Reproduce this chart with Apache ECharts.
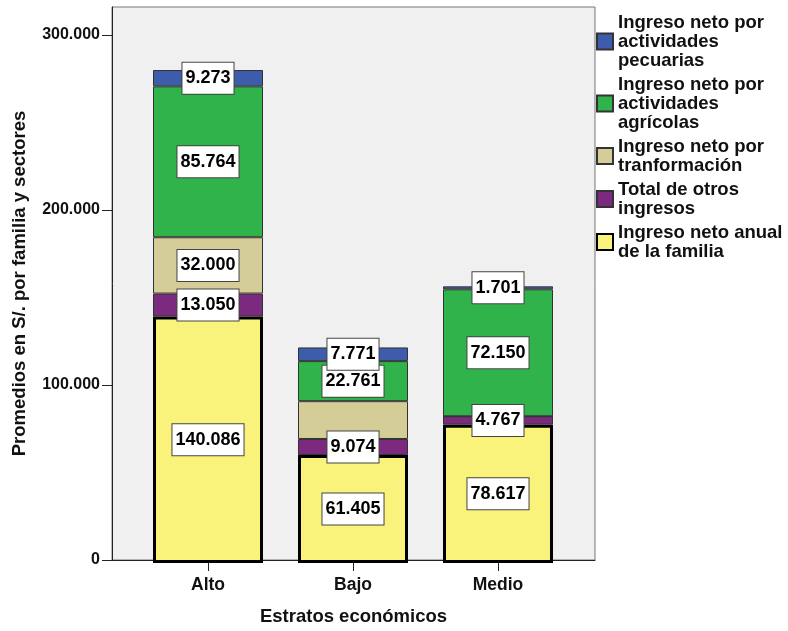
<!DOCTYPE html>
<html>
<head>
<meta charset="utf-8">
<script src="https://cdn.jsdelivr.net/npm/echarts@6/dist/echarts.min.js"></script>
<style>html,body{margin:0;padding:0;background:#fff}#c{width:788px;height:631px}</style>
</head>
<body>
<div id="c"></div>
<script>
const categories = ['Alto', 'Bajo', 'Medio'];
const ingresoAnual = [140086, 61405, 78617];
const otrosIngresos = [13050, 9074, 4767];
const transformacion = [32000, 21500, 0];
const agricolas = [85764, 22761, 72150];
const pecuarias = [9273, 7771, 1701];
const yTicks = [0, 100000, 200000, 300000];
const seriesNames = [
  'Ingreso neto anual\nde la familia',
  'Total de otros\ningresos',
  'Ingreso neto por\ntranformación',
  'Ingreso neto por\nactividades\nagrícolas',
  'Ingreso neto por\nactividades\npecuarias'
];
// labels not printed in the reference (series index, category index)
const hiddenLabels = [[2, 1], [2, 2]];

const fmt = v => String(Math.round(v)).replace(/\B(?=(\d{3})+(?!\d))/g, '.');
const colors = ['#FAF37B', '#7C2A80', '#D4CD98', '#31B34B', '#3D5CAB'];
const values = [ingresoAnual, otrosIngresos, transformacion, agricolas, pecuarias];

const series = values.map((arr, si) => ({
  name: seriesNames[si],
  type: 'bar',
  stack: 'total',
  xAxisIndex: 1,
  yAxisIndex: 1,
  barWidth: 110,
  itemStyle: {
    color: colors[si],
    borderColor: si === 0 ? '#000' : '#333',
    borderWidth: si === 0 ? 3 : 1
  },
  label: {
    show: true,
    position: 'inside',
    formatter: p => fmt(p.value),
    fontFamily: '"Liberation Sans", Arial, sans-serif',
    fontWeight: 'bold',
    fontSize: 18,
    lineHeight: 18,
    color: '#000',
    backgroundColor: '#fff',
    borderColor: '#444',
    borderWidth: 1,
    padding: [7, 3, 6, 3]
  },
  data: arr.map((v, ci) => {
    const hide = hiddenLabels.some(h => h[0] === si && h[1] === ci);
    return hide ? { value: v, label: { show: false } } : v;
  })
}));

const axisFont = { fontFamily: '"Liberation Sans", Arial, sans-serif', fontWeight: 'bold', color: '#111' };

const option = {
  animation: false,
  backgroundColor: '#fff',
  grid: [
    { left: 112, top: 7, right: 193, bottom: 68, show: true, backgroundColor: '#F0F0F0', borderColor: '#777', borderWidth: 1, containLabel: false },
    { left: 135.5, top: 7, right: 217.5, bottom: 68, containLabel: false }
  ],
  legend: {
    orient: 'vertical',
    left: 596,
    top: 13,
    padding: 0,
    itemWidth: 16,
    itemHeight: 16,
    itemGap: 5,
    icon: 'rect',
    data: seriesNames.slice().reverse(),
    textStyle: { fontFamily: '"Liberation Sans", Arial, sans-serif', fontWeight: 'bold', fontSize: 18.5, lineHeight: 19, color: '#111' }
  },
  xAxis: [
    {
      type: 'category', gridIndex: 0, data: categories,
      axisLine: { show: true, lineStyle: { color: '#222', width: 1 } },
      axisTick: { show: false }, axisLabel: { show: false }, splitLine: { show: false },
      name: 'Estratos económicos', nameLocation: 'middle', nameGap: 47,
      nameTextStyle: Object.assign({ fontSize: 18.5 }, axisFont)
    },
    {
      type: 'category', gridIndex: 1, data: categories,
      axisLine: { show: false },
      axisTick: { show: true, alignWithLabel: true, length: 8, lineStyle: { color: '#222' } },
      axisLabel: Object.assign({ fontSize: 17.5, margin: 13 }, axisFont),
      splitLine: { show: false }
    }
  ],
  yAxis: [
    {
      type: 'value', gridIndex: 0, min: 0, max: 316000, interval: 100000,
      axisLine: { show: true, lineStyle: { color: '#222', width: 1 } },
      axisTick: { show: true, length: 10, customValues: yTicks, lineStyle: { color: '#222' } },
      axisLabel: Object.assign({ fontSize: 16, margin: 12, customValues: yTicks, formatter: v => fmt(v) }, axisFont),
      splitLine: { show: false },
      name: 'Promedios en S/. por familia y sectores', nameLocation: 'middle', nameGap: 83,
      nameTextStyle: Object.assign({ fontSize: 18.5 }, axisFont)
    },
    {
      type: 'value', gridIndex: 1, min: 0, max: 316000, interval: 100000, show: false,
      splitLine: { show: false }
    }
  ],
  series: series
};
echarts.init(document.getElementById('c')).setOption(option);
</script>
</body>
</html>
